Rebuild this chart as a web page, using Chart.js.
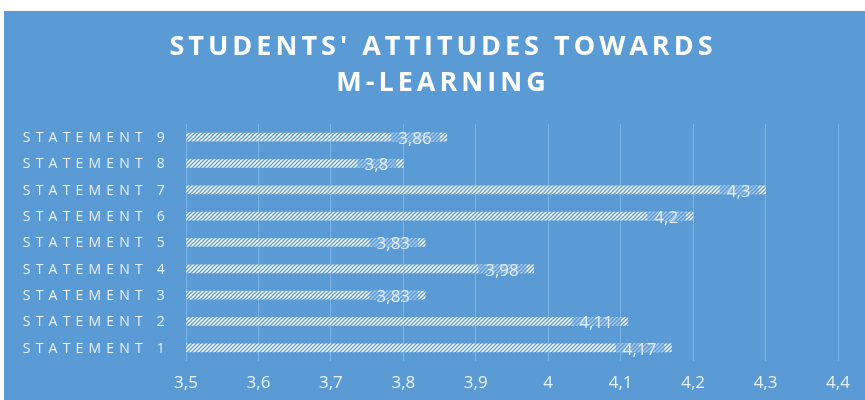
<!DOCTYPE html>
<html>
<head>
<meta charset="utf-8">
<script src="https://cdn.jsdelivr.net/npm/chart.js@4.4.1/dist/chart.umd.min.js"></script>
<style>
  html, body { margin: 0; padding: 0; background: #ffffff; }
  #wrap { width: 865px; height: 400px; position: relative; }
</style>
</head>
<body>
<div id="wrap"><canvas id="chart" width="865" height="400"></canvas></div>
<script>
// Chart data
const titleLines = ["STUDENTS' ATTITUDES TOWARDS", 'M-LEARNING'];
const statements = ['STATEMENT 9', 'STATEMENT 8', 'STATEMENT 7', 'STATEMENT 6', 'STATEMENT 5',
                    'STATEMENT 4', 'STATEMENT 3', 'STATEMENT 2', 'STATEMENT 1'];
const scores = [3.86, 3.8, 4.3, 4.2, 3.83, 3.98, 3.83, 4.11, 4.17];
const axisMin = 3.5;
const axisMax = 4.4;
const axisStep = 0.1;

const BG = '#5b9bd5';

function formatComma(v) {
    let s = (Math.round(v * 100) / 100).toString();
    return s.replace('.', ',');
}

// striped fill like the Excel "wide diagonal" pattern
function makeStripes() {
    const c = document.createElement('canvas');
    c.width = 4; c.height = 4;
    const g = c.getContext('2d');
    g.fillStyle = '#ffffff';
    g.fillRect(0, 0, 4, 4);
    g.strokeStyle = BG;
    g.lineWidth = 1.3;
    g.beginPath();
    g.moveTo(0, 4); g.lineTo(4, 0);
    g.moveTo(-1, 1); g.lineTo(1, -1);
    g.moveTo(3, 5); g.lineTo(5, 3);
    g.stroke();
    return document.getElementById('chart').getContext('2d').createPattern(c, 'repeat');
}

const backgroundPlugin = {
    id: 'panel',
    beforeDraw(chart) {
        const ctx = chart.ctx;
        ctx.save();
        ctx.fillStyle = BG;
        ctx.fillRect(4, 11, chart.width - 4, chart.height - 11);

        // title
        ctx.fillStyle = '#ffffff';
        ctx.font = 'bold 27px "Open Sans"';
        ctx.letterSpacing = '4px';
        ctx.textAlign = 'center';
        ctx.textBaseline = 'middle';
        ctx.fillText(titleLines[0], 443, 47);
        ctx.fillText(titleLines[1], 443, 83);
        ctx.restore();
    },
    afterDraw(chart) {
        const ctx = chart.ctx;
        const y = chart.scales.y;
        const x = chart.scales.x;
        ctx.save();
        // category labels
        ctx.fillStyle = '#e8eff8';
        ctx.font = '14px "Open Sans"';
        ctx.letterSpacing = '5.2px';
        ctx.textAlign = 'right';
        ctx.textBaseline = 'middle';
        statements.forEach((s, i) => {
            ctx.fillText(s, 170, y.getPixelForValue(i) + 1);
        });
        ctx.restore();

        // value labels at the bar ends
        ctx.save();
        ctx.font = '17px "Open Sans"';
        ctx.textAlign = 'right';
        ctx.textBaseline = 'middle';
        const meta = chart.getDatasetMeta(0);
        scores.forEach((v, i) => {
            const bar = meta.data[i];
            const xe = x.getPixelForValue(v);
            const cy = bar.y;
            const txt = formatComma(v);
            const w = ctx.measureText(txt).width;
            ctx.fillStyle = 'rgba(91,155,213,0.6)';
            ctx.fillRect(xe - 22 - w, cy - 4, w + 15, 8);
            ctx.fillStyle = '#e2ecf7';
            ctx.fillText(txt, xe - 15, cy + 2);
        });
        ctx.restore();
    }
};

const ctx = document.getElementById('chart').getContext('2d');
new Chart(ctx, {
    type: 'bar',
    data: {
        labels: statements,
        datasets: [{
            data: scores,
            backgroundColor: makeStripes(),
            borderWidth: 0,
            barThickness: 8,
            base: axisMin
        }]
    },
    options: {
        indexAxis: 'y',
        responsive: false,
        animation: false,
        layout: {
            padding: { top: 124, left: 186, right: 27, bottom: 0 }
        },
        plugins: {
            legend: { display: false },
            title: { display: false },
            tooltip: { enabled: false }
        },
        scales: {
            x: {
                min: axisMin,
                max: axisMax,
                border: { display: false },
                grid: { color: '#80b2e0', lineWidth: 1, drawTicks: false },
                afterFit: (scale) => { scale.height = 39; },
                ticks: {
                    stepSize: axisStep,
                    color: '#e8f0f8',
                    font: { family: 'Open Sans', size: 17 },
                    padding: 12,
                    callback: (v) => formatComma(v)
                }
            },
            y: {
                display: false
            }
        }
    },
    plugins: [backgroundPlugin]
});
</script>
</body>
</html>
